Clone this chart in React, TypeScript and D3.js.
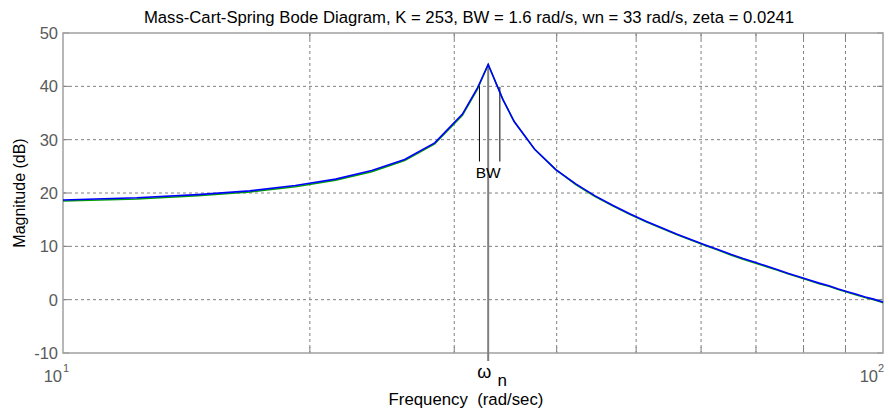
import React from "react";
import * as d3 from "d3";

const titleText = "Mass-Cart-Spring Bode Diagram, K = 253, BW = 1.6 rad/s, wn = 33 rad/s, zeta = 0.0241";
const freqs = [10, 12.3, 14.6, 16.9, 19.2, 21.5, 23.8, 26.1, 28.4, 30.7, 32, 33, 34.4, 35.5, 37.6, 39.9, 42.2, 44.5, 46.8, 49.1, 51.4, 53.7, 56, 58.3, 60.6, 62.9, 65.2, 67.5, 69.8, 72.1, 74.4, 76.7, 79, 81.3, 83.6, 85.9, 88.2, 90.5, 92.8, 95.1, 97.4, 99.7, 100];
const blueDb = [18.7, 19.1, 19.7, 20.4, 21.4, 22.6, 24.2, 26.3, 29.4, 34.8, 39.6, 44.1, 37.5, 33.4, 28.2, 24.4, 21.7, 19.5, 17.7, 16.1, 14.7, 13.5, 12.3, 11.3, 10.3, 9.4, 8.5, 7.7, 7.0, 6.3, 5.6, 4.9, 4.3, 3.7, 3.1, 2.6, 2.0, 1.5, 1.0, 0.5, 0.1, -0.4, -0.5];
const greenDb = [18.6, 19.0, 19.6, 20.3, 21.3, 22.5, 24.1, 26.2, 29.3, 34.7, 39.5, 44.2, 37.6, 33.5, 28.3, 24.5, 21.7, 19.5, 17.7, 16.1, 14.7, 13.5, 12.3, 11.3, 10.3, 9.4, 8.5, 7.7, 7.0, 6.3, 5.6, 4.9, 4.3, 3.7, 3.1, 2.6, 2.0, 1.5, 1.0, 0.5, 0.1, -0.4, -0.5];
const yTicks = [-10, 0, 10, 20, 30, 40, 50];
const xGrid = [20, 30, 40, 50, 60, 70, 80, 90];
const wn = 33;
const peakDb = 44.1;
const bwFreqs = [32.2, 34.1];
const bwTopDb = [40.3, 39.9];
const bwBottomDb = 25.9;

const W = 889, H = 410;
const m = { left: 63, top: 33, right: 6, bottom: 57 };
const font = "Arial, 'Liberation Sans', sans-serif";

export default function App() {
  const x = d3.scaleLog().domain([10, 100]).range([m.left, W - m.right]);
  const y = d3.scaleLinear().domain([-10, 50]).range([H - m.bottom, m.top]);
  const x0 = x.range()[0], x1 = x.range()[1];
  const y0 = y.range()[0], y1 = y.range()[1];
  const line = d3.line<number>().x((_, i) => x(freqs[i])).y((d) => y(d));
  const axisColor = "#a0a0a0";
  const gridColor = "#808080";
  return (
    <svg width={W} height={H} style={{ position: "absolute", left: 0, top: 0, background: "#fff" }}>
      <rect x={0} y={0} width={W} height={H} fill="#fff" />
      {yTicks.filter((t) => t > -10 && t < 50).map((t) => (
        <line key={"gy" + t} x1={x0} x2={x1} y1={y(t)} y2={y(t)} stroke={gridColor} strokeWidth={1} strokeDasharray="3,3" />
      ))}
      {xGrid.map((f) => (
        <line key={"gx" + f} x1={x(f)} x2={x(f)} y1={y1} y2={y0} stroke={gridColor} strokeWidth={1} strokeDasharray="3,3" />
      ))}
      {yTicks.map((t) => (
        <g key={"ty" + t}>
          <line x1={x0} x2={x0 + 6} y1={y(t)} y2={y(t)} stroke={gridColor} />
          <line x1={x1} x2={x1 - 6} y1={y(t)} y2={y(t)} stroke={gridColor} />
          <text x={x0 - 5} y={y(t) + 6} textAnchor="end" fontFamily={font} fontSize={16.5} fill="#5a5a5a">{t}</text>
        </g>
      ))}
      {xGrid.map((f) => (
        <g key={"tx" + f}>
          <line x1={x(f)} x2={x(f)} y1={y0} y2={y0 - 6} stroke={gridColor} />
          <line x1={x(f)} x2={x(f)} y1={y1} y2={y1 + 6} stroke={gridColor} />
        </g>
      ))}
      <rect x={x0} y={y1} width={x1 - x0} height={y0 - y1} fill="none" stroke={axisColor} strokeWidth={1.5} />
      {bwFreqs.map((f, i) => (
        <line key={"bw" + i} x1={x(f)} x2={x(f)} y1={y(bwTopDb[i])} y2={y(bwBottomDb)} stroke="#000" strokeWidth={1} />
      ))}
      <line x1={x(wn)} x2={x(wn)} y1={y(peakDb)} y2={y0 + 8} stroke="#808080" strokeWidth={2} />
      <path d={line(greenDb) || ""} fill="none" stroke="#00a000" strokeWidth={1.5} transform="translate(0,0.6)" />
      <path d={line(blueDb) || ""} fill="none" stroke="#0000ff" strokeWidth={1.6} />
      <text x={x(wn)} y={y(bwBottomDb) + 16} textAnchor="middle" fontFamily={font} fontSize={15.5} fill="#000">BW</text>
      <text x={x0 - 1} y={y0 + 29} textAnchor="end" fontFamily={font} fontSize={16.5} fill="#5a5a5a">10</text>
      <text x={x0} y={y0 + 19} fontFamily={font} fontSize={11} fill="#5a5a5a">1</text>
      <text x={x1 - 5} y={y0 + 29} textAnchor="end" fontFamily={font} fontSize={16.5} fill="#5a5a5a">10</text>
      <text x={x1 - 5} y={y0 + 19} fontFamily={font} fontSize={11} fill="#5a5a5a">2</text>
      <text x={x(wn) - 4} y={y0 + 25} textAnchor="middle" fontFamily={font} fontSize={18} fill="#000">ω</text>
      <text x={x(wn) + 14} y={y0 + 33} textAnchor="middle" fontFamily={font} fontSize={17} fill="#000">n</text>
      <text x={466} y={405} textAnchor="middle" fontFamily={font} fontSize={16.8} fill="#000" style={{ whiteSpace: "pre" }}>{"Frequency  (rad/sec)"}</text>
      <text transform={`translate(25,${(y0 + y1) / 2}) rotate(-90)`} textAnchor="middle" fontFamily={font} fontSize={16} fill="#000">Magnitude (dB)</text>
      <text x={469} y={23} textAnchor="middle" fontFamily={font} fontSize={16.7} fill="#000">{titleText}</text>
    </svg>
  );
}
